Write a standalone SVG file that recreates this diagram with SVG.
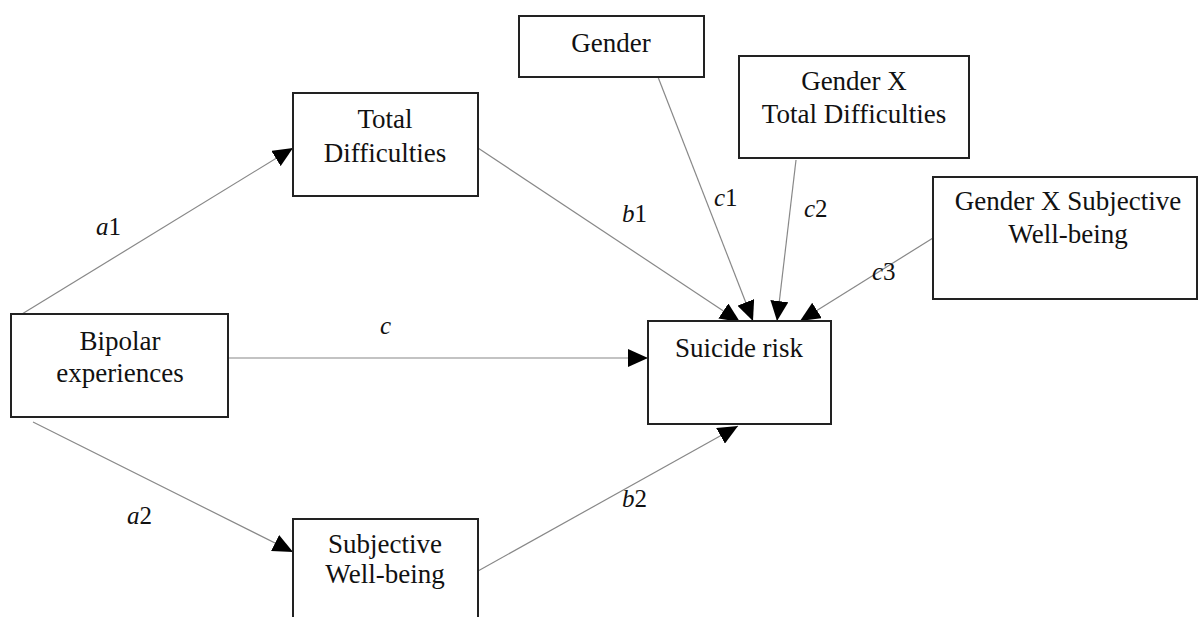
<svg xmlns="http://www.w3.org/2000/svg" width="1199" height="617" viewBox="0 0 1199 617">
<defs>
<style>
.box{fill:#fff;stroke:#222;stroke-width:2}
.t{font-family:"Liberation Serif","DejaVu Serif",serif;font-size:27px;fill:#111;text-anchor:middle}
.lbl{font-family:"Liberation Serif","DejaVu Serif",serif;font-size:25px;fill:#111}
.e{stroke:#888;stroke-width:1.2;fill:none;marker-end:url(#ah)}
</style>
<marker id="ah" viewBox="0 0 20 18" refX="20" refY="9" markerWidth="20" markerHeight="18" markerUnits="userSpaceOnUse" orient="auto">
<path d="M0,0 L20,9 L0,18 z" fill="#000"/>
</marker>
</defs>
<rect width="1199" height="617" fill="#fff"/>
<g id="connectors">
<line class="e" x1="22" y1="314" x2="293" y2="148"/>
<line class="e" x1="33" y1="422" x2="293" y2="552"/>
<line class="e" x1="228" y1="358" x2="648" y2="358"/>
<line class="e" x1="478" y1="148" x2="740" y2="322"/>
<line class="e" x1="478" y1="571" x2="738" y2="426"/>
<line class="e" x1="658" y1="77" x2="753" y2="321"/>
<line class="e" x1="796" y1="160" x2="777" y2="321"/>
<line class="e" x1="933" y1="238" x2="800" y2="321"/>
</g>
<g id="labels">
<text class="lbl" x="96" y="235"><tspan font-style="italic">a</tspan>1</text>
<text class="lbl" x="127" y="524"><tspan font-style="italic">a</tspan>2</text>
<text class="lbl" x="380" y="334"><tspan font-style="italic">c</tspan></text>
<text class="lbl" x="622" y="222"><tspan font-style="italic">b</tspan>1</text>
<text class="lbl" x="714" y="206"><tspan font-style="italic">c</tspan>1</text>
<text class="lbl" x="804" y="217"><tspan font-style="italic">c</tspan>2</text>
<text class="lbl" x="872" y="280"><tspan font-style="italic">c</tspan>3</text>
<text class="lbl" x="622" y="507"><tspan font-style="italic">b</tspan>2</text>
</g>
<g id="bipolar">
<rect class="box" x="11" y="314" width="217" height="103"/>
<text class="t" x="120" y="350">Bipolar</text>
<text class="t" x="120" y="382">experiences</text>
</g>
<g id="total-difficulties">
<rect class="box" x="293" y="93" width="185" height="103"/>
<text class="t" x="385" y="128">Total</text>
<text class="t" x="385" y="162">Difficulties</text>
</g>
<g id="subjective-wellbeing">
<rect class="box" x="293" y="519" width="185" height="110"/>
<text class="t" x="385" y="553">Subjective</text>
<text class="t" x="385" y="583">Well-being</text>
</g>
<g id="suicide-risk">
<rect class="box" x="648" y="321" width="183" height="103"/>
<text class="t" x="739" y="357">Suicide risk</text>
</g>
<g id="gender">
<rect class="box" x="519" y="16" width="185" height="61"/>
<text class="t" x="611" y="52">Gender</text>
</g>
<g id="gender-x-td">
<rect class="box" x="739" y="56" width="230" height="102"/>
<text class="t" x="854" y="90">Gender X</text>
<text class="t" x="854" y="123">Total Difficulties</text>
</g>
<g id="gender-x-swb">
<rect class="box" x="933" y="177" width="264" height="122"/>
<text class="t" x="1068" y="210">Gender X Subjective</text>
<text class="t" x="1068" y="243">Well-being</text>
</g>
</svg>
